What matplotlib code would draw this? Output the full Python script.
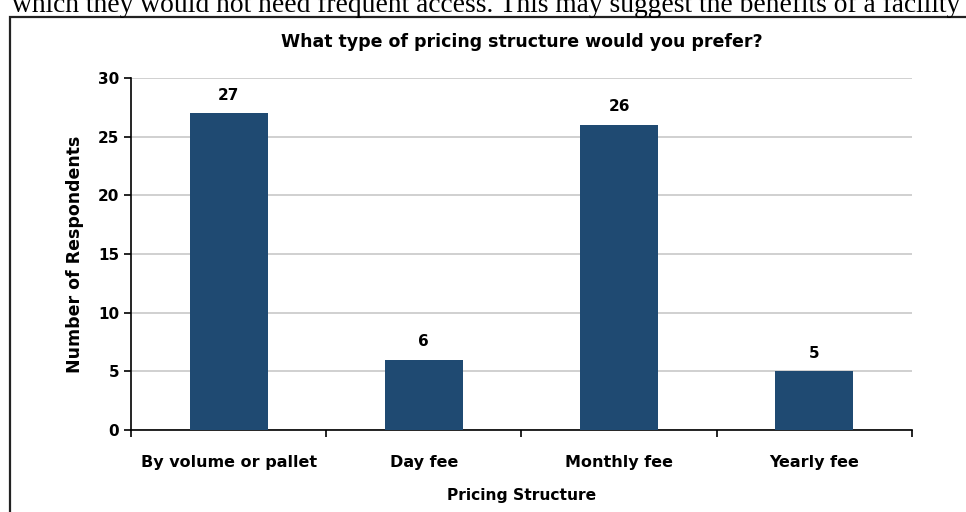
import matplotlib.pyplot as plt
from matplotlib.patches import Rectangle

categories = ["By volume or pallet", "Day fee", "Monthly fee", "Yearly fee"]
respondents = [27, 6, 26, 5]
y_ticks = [0, 5, 10, 15, 20, 25, 30]

bar_color = "#1F4A72"
plt.rcParams['font.family'] = ['DejaVu Sans']

fig = plt.figure(figsize=(9.66, 5.12), dpi=100)

# clipped line of the surrounding report text
fig.text(0.012, 0.977, "which they would not need frequent access. This may suggest the benefits of a facility",
         family="Liberation Serif", fontsize=19.8, va="baseline", ha="left")

# frame of the embedded chart
fig.patches.append(Rectangle((0.0105, -0.05), 1.2, 1.016, transform=fig.transFigure,
                             fill=False, edgecolor="#222222", linewidth=1.6))

ax = fig.add_axes([0.1356, 0.1602, 0.8085, 0.6875])
x = range(len(categories))
bars = ax.bar(x, respondents, width=0.4, color=bar_color, zorder=3)

for b, v in zip(bars, respondents):
    ax.text(b.get_x() + b.get_width() / 2, v + 0.9, str(v), ha="center", va="bottom",
            fontsize=11, fontweight="bold")

ax.set_xlim(-0.5, len(categories) - 0.5)
ax.set_ylim(0, 30)
ax.set_yticks(y_ticks)
ax.set_xticks(list(x))
ax.set_xticklabels(categories, fontsize=11.5, fontweight="bold")
ax.set_xticks([i + 0.5 for i in range(-1, len(categories))], minor=True)
ax.tick_params(axis="x", which="major", length=0, pad=18)
ax.tick_params(axis="x", which="minor", length=5, width=1.2, direction="out")
ax.tick_params(axis="y", length=5, width=1.2, direction="out", labelsize=11)
for lab in ax.get_yticklabels():
    lab.set_fontweight("bold")

ax.grid(axis="y", color="#C8C8C8", linewidth=1.2, zorder=0)
for s in ["top", "right"]:
    ax.spines[s].set_visible(False)
ax.spines["left"].set_linewidth(1.2)
ax.spines["bottom"].set_linewidth(1.2)

ax.set_title("What type of pricing structure would you prefer?", fontsize=12.5,
             fontweight="bold", pad=22)
ax.set_xlabel("Pricing Structure", fontsize=11.2, fontweight="bold", labelpad=13)
ax.set_ylabel("Number of Respondents", fontsize=12.5, fontweight="bold", labelpad=10)

fig.savefig("out.png", dpi=100)
